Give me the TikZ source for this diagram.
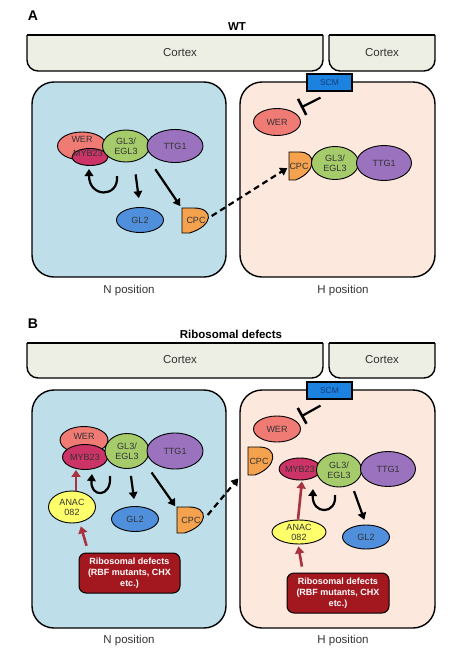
\documentclass[tikz,border=0pt]{standalone}
\usepackage{fontspec}
\setmainfont{Liberation Sans}
\usetikzlibrary{arrows.meta,shapes.geometric,calc}
\definecolor{cortexc}{HTML}{EDEFE4}
\definecolor{bluecell}{HTML}{BEDFEA}
\definecolor{peachcell}{HTML}{FCE8DD}
\definecolor{werc}{HTML}{F07A74}
\definecolor{mybc}{HTML}{CC3366}
\definecolor{glc}{HTML}{A5CB6B}
\definecolor{ttgc}{HTML}{9A72BE}
\definecolor{gltwo}{HTML}{4F8FDB}
\definecolor{cpcc}{HTML}{F4A24E}
\definecolor{anacc}{HTML}{FFFF6B}
\definecolor{scmc}{HTML}{1C82E0}
\definecolor{scmtxt}{HTML}{1A3A7A}
\definecolor{riboc}{HTML}{A3171F}
\definecolor{redarr}{HTML}{A8323E}
\definecolor{txtc}{HTML}{333333}
\newcommand\cpcdraw[4]{%
 \draw[fill=cpcc, line width=0.9pt] (#1,#2) -- ({#1+0.4*(#3-#1)},#2) .. controls ({#3+2},#2) and ({#3+2},{#4-0.3*(#4-#2)}) .. ({#1+0.25*(#3-#1)},#4) -- (#1,#4) -- cycle;}
\newcommand\cortexdraw[4]{%
 \begin{scope}\clip (0,#2) rectangle (474,{#4+5});
 \draw[fill=cortexc, line width=1.4pt, rounded corners=11pt] (#1,{#2-20}) rectangle (#3,#4);
 \end{scope}
 \draw[line width=1.4pt] (#1,#2) -- (#3,#2);}
\tikzset{
 prot/.style={ellipse, draw=black, line width=0.9pt, inner sep=0pt, font=\fontsize{9}{10}\selectfont, text=txtc, align=center},
 lbl/.style={inner sep=0pt, font=\fontsize{9}{10}\selectfont, text=txtc, align=center},
 cellbox/.style={draw=black, line width=1.4pt, rounded corners=22pt},
 arr/.style={line width=2.2pt, -{Triangle[length=7pt,width=8.5pt]}},
 redarrow/.style={line width=2.6pt, draw=redarr, -{Triangle[length=7pt,width=9pt]}},
 dasharr/.style={line width=2.2pt, dash pattern=on 6pt off 4pt, -{Triangle[length=7pt,width=8.5pt]}},
 inh/.style={line width=2.2pt, -{Bar[width=18pt,line width=2.6pt]}},
 ttl/.style={font=\bfseries\fontsize{11.5}{12}\selectfont},
 panel/.style={font=\bfseries\fontsize{14}{14}\selectfont},
 cortext/.style={font=\fontsize{11.5}{12}\selectfont, text=txtc},
 poslbl/.style={font=\fontsize{11.5}{12}\selectfont, text=txtc},
 scmbox/.style={draw=black, line width=1.2pt, fill=scmc, minimum width=45pt, minimum height=17pt, inner sep=0pt, font=\fontsize{8.5}{9}\selectfont, text=scmtxt},
 ribobox/.style={draw=black, line width=1pt, fill=riboc, rounded corners=7pt, text=white, font=\bfseries\fontsize{9}{11}\selectfont, align=center, inner sep=0pt},
}
\begin{document}
\begin{tikzpicture}[x=1pt,y=-1pt]
\useasboundingbox (0,0) rectangle (474,665);
%================ Panel A
\node[panel] (labA) at (33,16) {A};
\node[ttl] (titA) at (237,27) {WT};
\cortexdraw{27}{35}{323}{71}
\cortexdraw{329}{35}{435}{71}
\node[cortext] (cortAL) at (180,53) {Cortex};
\node[cortext] (cortAR) at (382,53) {Cortex};
\draw[cellbox, fill=bluecell] (32,82) rectangle (226,277);
\draw[cellbox, fill=peachcell] (240,82) rectangle (435,277);
\node[scmbox] (scmA) at (329.5,82.5) {SCM};
% left cell A
\node[prot, fill=werc, minimum width=49pt, minimum height=28pt] (werA) at (82,146) {};
\node[lbl] (werAt) at (82,139) {WER};
\node[prot, fill=mybc, minimum width=36pt, minimum height=17pt] (mybA) at (90,157) {};
\node[lbl] (mybAt) at (88,153) {MYB23};
\node[prot, fill=glc, minimum width=47pt, minimum height=32pt] (glA) at (126,146) {GL3/\\EGL3};
\node[prot, fill=ttgc, minimum width=56pt, minimum height=33pt] (ttgA) at (175,146) {TTG1};
\node[prot, fill=gltwo, minimum width=47pt, minimum height=25pt] (gltA) at (140,220) {GL2};
\cpcdraw{182}{208}{212}{233}
\node[lbl] (cpcA) at (196,220) {CPC};
\coordinate (loopAs) at (117,176);
\coordinate (loopAe) at (89,169);
\draw[arr] (loopAs) .. controls (119,198) and (89,198) .. (loopAe);
\draw[arr, shorten <=12pt, shorten >=9pt] ($(glA.south)+(8,0)$) -- (gltA.north);
\draw[arr, shorten <=13pt, shorten >=3pt] ($(glA.south)+(22,-4)$) -- ($(cpcA.north)+(-14,-8)$);
% right cell A
\node[prot, fill=werc, minimum width=47pt, minimum height=27pt] (werAR) at (277,122) {WER};
\cpcdraw{289}{152}{315}{180}
\node[prot, fill=glc, minimum width=47pt, minimum height=33pt] (glAR) at (335,163) {GL3/\\EGL3};
\node[prot, fill=ttgc, minimum width=55pt, minimum height=35pt] (ttgAR) at (384,163) {TTG1};
\node[lbl] (cpcAR) at (299,166) {CPC};
\coordinate (barA) at (301,107.5);
\draw[inh] ($(scmA.south)+(-9,6)$) -- (barA);
\draw[dasharr] ($(cpcA.east)+(6,-4)$) -- ($(cpcAR.west)+(-2,2)$);
\node[poslbl] (nposA) at (129,291) {N position};
\node[poslbl] (hposA) at (343,291) {H position};
%================ Panel B
\node[panel] (labB) at (33,324) {B};
\node[ttl] (titB) at (231,334) {Ribosomal defects};
\cortexdraw{27}{343}{323}{378}
\cortexdraw{329}{343}{435}{378}
\node[cortext] (cortBL) at (180,360) {Cortex};
\node[cortext] (cortBR) at (382,360) {Cortex};
\draw[cellbox, fill=bluecell] (32,390) rectangle (226,628);
\draw[cellbox, fill=peachcell] (240,390) rectangle (435,628);
\node[scmbox] (scmB) at (329.5,390.5) {SCM};
% left cell B
\node[prot, fill=werc, minimum width=48pt, minimum height=27pt] (werB) at (84,440) {};
\node[lbl] (werBt) at (84,436) {WER};
\node[prot, fill=mybc, minimum width=45pt, minimum height=25pt] (mybB) at (85,457) {MYB23};
\node[prot, fill=glc, minimum width=44pt, minimum height=35pt] (glB) at (127,451) {GL3/\\EGL3};
\node[prot, fill=ttgc, minimum width=56pt, minimum height=36pt] (ttgB) at (175,451) {TTG1};
\node[prot, fill=anacc, minimum width=47pt, minimum height=32pt] (anacB) at (72,507) {ANAC\\082};
\node[prot, fill=gltwo, minimum width=47pt, minimum height=25pt] (gltB) at (135,519) {GL2};
\cpcdraw{177}{507}{207}{533}
\node[lbl] (cpcB) at (191,520) {CPC};
\node[ribobox, minimum width=101pt, minimum height=40pt] (riboB) at (129.5,573) {Ribosomal defects\\(RBF mutants, CHX\\etc.)};
\draw[redarrow] ($(anacB.north)+(4,0)$) -- ($(mybB.south)+(-9,0)$);
\draw[redarrow, shorten <=7pt, shorten >=3pt] ($(riboB.north)+(-41,0)$) -- ($(anacB.south)+(8,0)$);
\coordinate (loopBs) at (110,476);
\coordinate (loopBe) at (92,474);
\draw[arr] (loopBs) .. controls (112,498) and (90,498) .. (loopBe);
\draw[arr, shorten <=7pt, shorten >=7pt] ($(glB.south)+(3,0)$) -- (gltB.north);
\draw[arr, shorten <=8pt, shorten >=3pt] ($(glB.south)+(20,-3)$) -- ($(cpcB.north)+(-14,-8)$);
% right cell B
\node[prot, fill=werc, minimum width=47pt, minimum height=26pt] (werBR) at (277,429) {WER};
\cpcdraw{248}{447}{276}{475}
\node[lbl] (cpcBR) at (259,461) {CPC};
\node[prot, fill=mybc, minimum width=37pt, minimum height=22pt] (mybBR) at (300,469) {MYB23};
\node[prot, fill=glc, minimum width=45pt, minimum height=34pt] (glBR) at (339,470) {GL3/\\EGL3};
\node[prot, fill=ttgc, minimum width=55pt, minimum height=35pt] (ttgBR) at (388,469) {TTG1};
\node[prot, fill=anacc, minimum width=54pt, minimum height=24pt] (anacBR) at (299,532) {ANAC\\082};
\node[prot, fill=gltwo, minimum width=47pt, minimum height=24pt] (gltBR) at (366,537) {GL2};
\node[ribobox, minimum width=102pt, minimum height=40pt] (riboBR) at (338,593) {Ribosomal defects\\(RBF mutants, CHX\\etc.)};
\draw[redarrow, shorten >=1pt] ($(anacBR.north)+(-1,0)$) -- ($(mybBR.south)+(2,0)$);
\draw[redarrow, shorten <=6pt, shorten >=2pt] ($(riboBR.north)+(-35,0)$) -- ($(anacBR.south)+(-1,0)$);
\coordinate (loopCs) at (335,495);
\coordinate (loopCe) at (313,489);
\draw[arr] (loopCs) .. controls (337,515) and (312,515) .. (loopCe);
\draw[arr, shorten <=6pt, shorten >=5pt] ($(glBR.south)+(13,-2)$) -- (gltBR.north);
\coordinate (barB) at (301,416.5);
\draw[inh] ($(scmB.south)+(-9,6)$) -- (barB);
\draw[dasharr] ($(cpcB.east)+(7,-5)$) -- ($(cpcBR.south west)+(-11,14)$);
\node[poslbl] (nposB) at (129,641) {N position};
\node[poslbl] (hposB) at (343,641) {H position};
\end{tikzpicture}
\end{document}
